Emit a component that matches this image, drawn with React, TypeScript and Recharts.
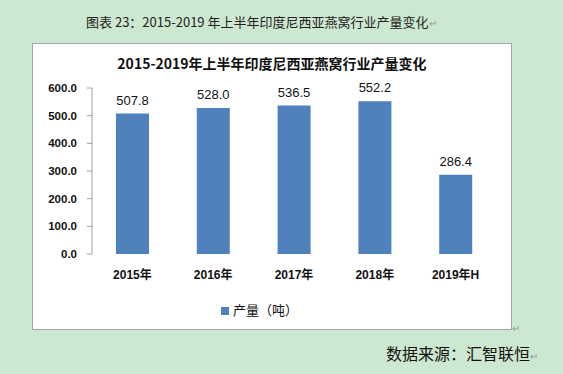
import React from 'react';
import { BarChart, Bar, XAxis, YAxis, Legend, LabelList } from 'recharts';

const categories = ['2015年', '2016年', '2017年', '2018年', '2019年H'];
const production = [507.8, 528.0, 536.5, 552.2, 286.4];
const yTicks = [0, 100, 200, 300, 400, 500, 600];
const boundaryTicks = [0, 1, 2, 3, 4, 5];

const data = categories.map((c, i) => ({ name: c, value: production[i], idx: i + 0.5 }));

const FONT = '"Liberation Sans", Arial, "Noto Sans CJK SC", sans-serif';
const CJK = '"Noto Sans CJK SC", "Liberation Sans", sans-serif';

export default function App() {
  return (
    <div style={{ position: 'absolute', left: 0, top: 0, width: 563, height: 374, background: '#cde8d0', overflow: 'hidden', fontFamily: CJK }}>
      <div style={{ position: 'absolute', left: 86, top: 13, fontSize: 13, color: '#222', whiteSpace: 'nowrap', lineHeight: '18px' }}>
        图表 23：2015-2019 年上半年印度尼西亚燕窝行业产量变化<span style={{ color: '#999', fontSize: 10 }}>↵</span>
      </div>
      <div style={{ position: 'absolute', left: 32, top: 43, width: 478, height: 285, background: '#fff', border: '1px solid #a6a6a6' }}>
        <div style={{ position: 'absolute', left: 0, width: 478, top: 9, textAlign: 'center', fontSize: 14, fontWeight: 'bold', color: '#111', whiteSpace: 'nowrap', lineHeight: '20px' }}>
          2015-2019年上半年印度尼西亚燕窝行业产量变化
        </div>
        <div style={{ position: 'absolute', left: 0, top: 0 }}>
          <BarChart width={478} height={285} data={data} margin={{ top: 44, right: 15, bottom: 0, left: 0 }}>
            <XAxis xAxisId="b" type="number" dataKey="idx" domain={[0, 5]} ticks={boundaryTicks} allowDataOverflow
              height={0} tickSize={5} tickFormatter={() => ''} stroke="#a0a0a0" />
            <XAxis xAxisId="a" dataKey="name" axisLine={false} tickLine={false} height={56} tickMargin={10}
              tick={{ fontSize: 12, fontWeight: 'bold', fill: '#111', fontFamily: FONT }} />
            <YAxis domain={[0, 600]} ticks={yTicks} width={59} tickSize={5} tickMargin={10} stroke="#a0a0a0"
              tickFormatter={(v: number) => v.toFixed(1)}
              tick={{ fontSize: 11.5, fontWeight: 'bold', fill: '#111', fontFamily: FONT }} />
            <Legend verticalAlign="bottom" iconType="square" iconSize={8}
              wrapperStyle={{ bottom: 10, fontSize: 13, color: '#111', fontFamily: CJK }}
              formatter={() => <span style={{ color: '#111' }}>产量（吨）</span>} />
            <Bar xAxisId="a" dataKey="value" name="产量（吨）" fill="#4f81bd" barSize={33} isAnimationActive={false}>
              <LabelList dataKey="value" position="top" offset={9}
                formatter={(v: number) => v.toFixed(1)}
                style={{ fontSize: 13, fill: '#111', fontFamily: FONT }} />
            </Bar>
          </BarChart>
        </div>
      </div>
      <div style={{ position: 'absolute', left: 512, top: 320, fontSize: 10, color: '#999' }}>↵</div>
      <div style={{ position: 'absolute', left: 386, top: 342, fontSize: 16, color: '#111', whiteSpace: 'nowrap', lineHeight: '22px' }}>
        数据来源：汇智联恒<span style={{ color: '#999', fontSize: 10 }}>↵</span>
      </div>
    </div>
  );
}
